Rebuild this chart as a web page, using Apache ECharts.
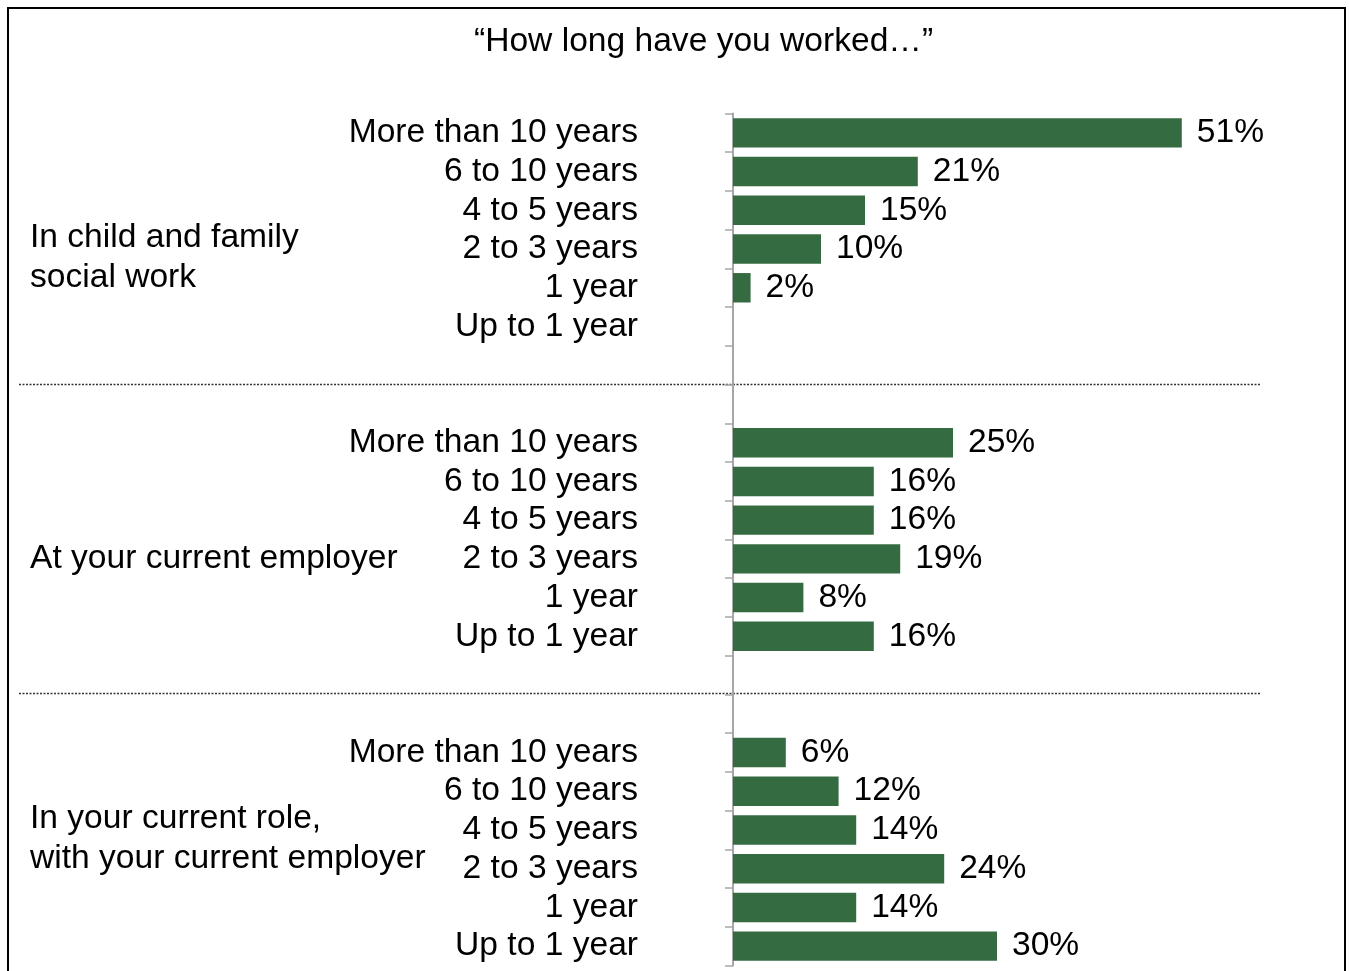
<!DOCTYPE html>
<html>
<head>
<meta charset="utf-8">
<title>How long have you worked</title>
<script src="https://cdn.jsdelivr.net/npm/echarts@6/dist/echarts.min.js"></script>
<style>
  html, body { margin: 0; padding: 0; background: #ffffff; }
  #chart { width: 1349px; height: 971px; }
</style>
</head>
<body>
<div id="chart"></div>
<script>
// Survey answers: share of respondents (%) per length of service
const chartTitle = '\u201CHow long have you worked\u2026\u201D';
const durations = ['More than 10 years', '6 to 10 years', '4 to 5 years', '2 to 3 years', '1 year', 'Up to 1 year'];
const groupNames = [
  'In child and family\nsocial work',
  'At your current employer',
  'In your current role,\nwith your current employer'
];
const childFamilyWork = [51, 21, 15, 10, 2, null];
const currentEmployer = [25, 16, 16, 19, 8, 16];
const currentRole = [6, 12, 14, 24, 14, 30];
const xMax = 60;
const gapRows = 2; // blank rows between the groups

// Build one long category list: each group's rows, separated by blank rows
const groupValues = [childFamilyWork, currentEmployer, currentRole];
const rowLabels = [];
const rowValues = [];
const separatorAfter = []; // index of the first blank row after each group (line drawn in the middle of the blanks)
groupValues.forEach(function (vals, g) {
  durations.forEach(function (d, i) {
    rowLabels.push(d);
    rowValues.push(vals[i]);
  });
  if (g < groupValues.length - 1) {
    separatorAfter.push(rowLabels.length);
    for (let k = 0; k < gapRows; k++) {
      rowLabels.push('');
      rowValues.push(null);
    }
  }
});
const rowKeys = rowLabels.map(function (_, i) { return 'row' + i; });

const FONT = "'Liberation Sans', Arial, Helvetica, sans-serif";
const FONT_SIZE = 33.6;
const GREEN = '#356b41';

const chart = echarts.init(document.getElementById('chart'), null, { renderer: 'canvas' });

chart.setOption({
  backgroundColor: '#ffffff',
  animation: false,
  title: {
    text: chartTitle,
    left: 469,
    top: 20,
    textStyle: { fontFamily: FONT, fontSize: FONT_SIZE, fontWeight: 'normal', color: '#000000' }
  },
  grid: { left: 733, top: 113.5, width: 528, height: 852, containLabel: false },
  xAxis: {
    type: 'value',
    min: 0,
    max: xMax,
    show: false
  },
  yAxis: {
    type: 'category',
    inverse: true,
    data: rowKeys,
    axisLine: { show: true, lineStyle: { color: '#a6a6a6', width: 2 } },
    axisTick: { show: true, length: 8, lineStyle: { color: '#a6a6a6', width: 1.5 } },
    axisLabel: {
      margin: 95,
      fontFamily: FONT,
      fontSize: FONT_SIZE,
      color: '#000000',
      interval: 0,
      padding: [5, 0, 0, 0],
      formatter: function (v, idx) { return rowLabels[idx]; }
    },
    splitLine: { show: false }
  },
  series: [{
    type: 'bar',
    data: rowValues,
    barWidth: '76%',
    itemStyle: { color: GREEN },
    label: {
      show: true,
      position: 'right',
      distance: 15,
      fontFamily: FONT,
      fontSize: FONT_SIZE,
      color: '#000000',
      padding: [4, 0, 0, 0],
      formatter: function (p) { return p.value + '%'; }
    }
  }]
});

// Frame, group captions and dotted separators
function layoutOverlay() {
  const catY = function (i) { return chart.convertToPixel({ yAxisIndex: 0 }, rowKeys[i]); };
  const graphics = [{
    type: 'rect',
    shape: { x: 8, y: 8, width: 1337, height: 1000 },
    style: { fill: null, stroke: '#000000', lineWidth: 2 },
    silent: true
  }];
  separatorAfter.forEach(function (idx) {
    const y = Math.round((catY(idx) + catY(idx + gapRows - 1)) / 2) - 0.5;
    graphics.push({
      type: 'line',
      shape: { x1: 19, y1: y, x2: 1260, y2: y },
      style: { stroke: '#333333', lineWidth: 1.5, lineDash: [2, 1.5] },
      silent: true
    });
  });
  const captionTops = [217, 538, 798];
  groupNames.forEach(function (name, g) {
    graphics.push({
      type: 'text',
      left: 30,
      top: captionTops[g],
      style: {
        text: name,
        fontFamily: FONT,
        fontSize: FONT_SIZE,
        lineHeight: 40.5,
        fill: '#000000'
      },
      silent: true
    });
  });
  chart.setOption({ graphic: graphics });
}
layoutOverlay();
</script>
</body>
</html>
